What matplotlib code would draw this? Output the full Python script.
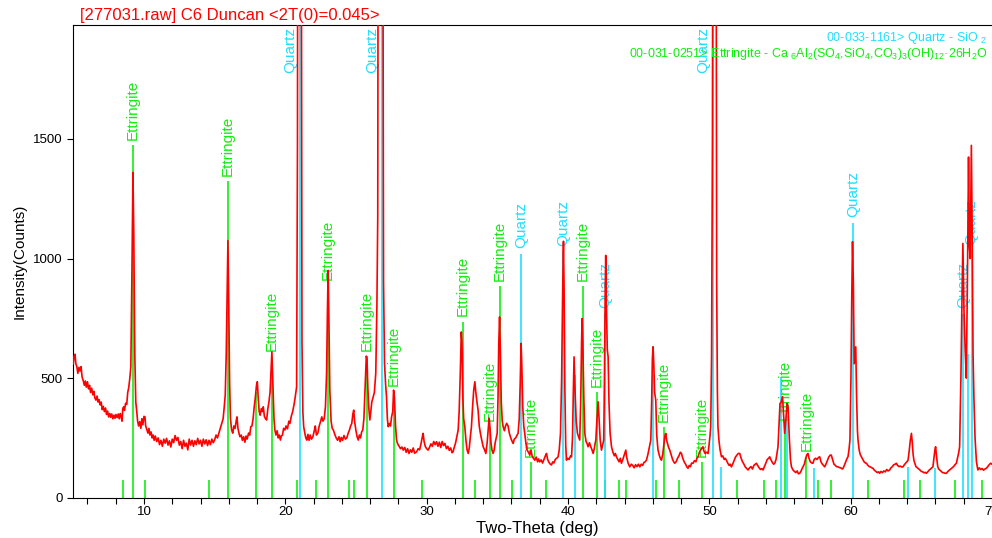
import matplotlib
matplotlib.use("Agg")
import matplotlib.pyplot as plt
from matplotlib.ticker import MultipleLocator

plt.rcParams["font.family"] = ["Liberation Sans", "DejaVu Sans"]
plt.rcParams["mathtext.fontset"] = "custom"
plt.rcParams["mathtext.rm"] = "Liberation Sans"
plt.rcParams["mathtext.it"] = "Liberation Sans:italic"
plt.rcParams["mathtext.bf"] = "Liberation Sans:bold"

SCAN = [
    (5.00, 560), (5.05, 590), (5.12, 600), (5.18, 560), (5.25, 548), (5.32, 520), (5.40, 545),
    (5.47, 530), (5.55, 548), (5.62, 505), (5.70, 490), (5.78, 470), (5.85, 488), (5.92, 462),
    (6.00, 485), (6.08, 455), (6.15, 470), (6.22, 440), (6.30, 458), (6.38, 430), (6.45, 445),
    (6.52, 418), (6.60, 408), (6.68, 425), (6.75, 400), (6.82, 410), (6.90, 388), (6.97, 400),
    (7.05, 368), (7.12, 382), (7.20, 360), (7.28, 375), (7.35, 348), (7.42, 362), (7.50, 338),
    (7.58, 352), (7.65, 336), (7.72, 350), (7.80, 330), (7.88, 345), (7.95, 332), (8.02, 348),
    (8.10, 335), (8.18, 350), (8.25, 330), (8.32, 352), (8.40, 335), (8.45, 320), (8.50, 372),
    (8.56, 380), (8.62, 365), (8.70, 395), (8.78, 390), (8.85, 440), (8.92, 460), (9.00, 500),
    (9.07, 547), (9.15, 950), (9.22, 1360), (9.28, 1100), (9.35, 600), (9.42, 400), (9.48, 366),
    (9.55, 320), (9.62, 300), (9.70, 318), (9.78, 290), (9.85, 330), (9.92, 305), (10.00, 340),
    (10.07, 338), (10.12, 300), (10.20, 285), (10.28, 270), (10.35, 290), (10.42, 262), (10.50, 275),
    (10.58, 250), (10.65, 262), (10.72, 240), (10.80, 258), (10.90, 235), (11.00, 250), (11.10, 222),
    (11.20, 240), (11.30, 215), (11.40, 245), (11.50, 228), (11.60, 248), (11.70, 220), (11.80, 238),
    (11.90, 212), (12.00, 245), (12.10, 230), (12.20, 260), (12.30, 240), (12.40, 252), (12.50, 220),
    (12.60, 235), (12.70, 205), (12.80, 240), (12.90, 215), (13.00, 228), (13.10, 200), (13.20, 245),
    (13.30, 220), (13.40, 240), (13.50, 215), (13.60, 238), (13.70, 222), (13.80, 248), (13.90, 225),
    (14.00, 240), (14.10, 215), (14.20, 245), (14.30, 225), (14.40, 242), (14.50, 218), (14.60, 240),
    (14.70, 222), (14.80, 245), (14.90, 230), (15.00, 242), (15.10, 262), (15.20, 250), (15.30, 270),
    (15.40, 290), (15.50, 311), (15.60, 330), (15.68, 380), (15.75, 430), (15.82, 600), (15.88, 850),
    (15.94, 1075), (16.00, 800), (16.06, 480), (16.12, 330), (16.20, 283), (16.28, 270), (16.36, 300),
    (16.45, 290), (16.52, 320), (16.58, 338), (16.65, 290), (16.72, 270), (16.79, 255), (16.88, 262),
    (16.96, 240), (17.05, 255), (17.14, 232), (17.22, 258), (17.30, 245), (17.40, 270), (17.48, 262),
    (17.56, 297), (17.64, 300), (17.72, 330), (17.80, 380), (17.88, 420), (17.96, 470), (18.02, 485),
    (18.08, 420), (18.15, 360), (18.22, 345), (18.30, 372), (18.38, 360), (18.44, 380), (18.52, 340),
    (18.60, 330), (18.68, 325), (18.76, 370), (18.84, 400), (18.92, 440), (18.98, 520), (19.05, 610),
    (19.12, 480), (19.20, 330), (19.26, 283), (19.34, 262), (19.42, 280), (19.50, 250), (19.58, 262),
    (19.65, 241), (19.72, 258), (19.80, 262), (19.88, 290), (19.97, 283), (20.05, 300), (20.15, 288),
    (20.25, 320), (20.33, 311), (20.42, 340), (20.52, 360), (20.62, 390), (20.70, 420), (20.80, 464),
    (20.86, 1481), (20.88, 2600), (21.13, 2600), (21.18, 650), (21.24, 360), (21.30, 297), (21.38, 270),
    (21.45, 250), (21.52, 241), (21.60, 265), (21.68, 240), (21.76, 262), (21.85, 245), (21.95, 255),
    (22.05, 280), (22.12, 300), (22.20, 262), (22.30, 270), (22.40, 300), (22.50, 320), (22.58, 338),
    (22.66, 320), (22.75, 330), (22.84, 380), (22.92, 520), (22.98, 780), (23.03, 950), (23.08, 760),
    (23.15, 450), (23.24, 320), (23.32, 290), (23.40, 283), (23.50, 265), (23.60, 250), (23.70, 240),
    (23.80, 255), (23.88, 234), (23.96, 252), (24.05, 240), (24.15, 260), (24.25, 245), (24.35, 250),
    (24.45, 270), (24.55, 285), (24.62, 300), (24.70, 310), (24.78, 350), (24.84, 366), (24.90, 320),
    (25.00, 280), (25.08, 255), (25.16, 241), (25.24, 262), (25.32, 250), (25.40, 275), (25.48, 283),
    (25.56, 330), (25.62, 420), (25.68, 520), (25.73, 592), (25.78, 580), (25.84, 460), (25.90, 380),
    (25.98, 325), (26.05, 360), (26.12, 400), (26.22, 422), (26.30, 440), (26.40, 520), (26.48, 800),
    (26.54, 1174), (26.57, 2600), (26.90, 2600), (26.95, 900), (27.02, 560), (27.10, 470), (27.16, 422),
    (27.22, 330), (27.28, 297), (27.36, 310), (27.44, 300), (27.52, 338), (27.60, 360), (27.66, 450),
    (27.72, 420), (27.80, 300), (27.87, 241), (27.95, 225), (28.05, 215), (28.15, 205), (28.25, 212),
    (28.34, 199), (28.45, 210), (28.55, 190), (28.65, 205), (28.75, 185), (28.85, 200), (28.95, 190),
    (29.05, 208), (29.15, 186), (29.29, 192), (29.40, 205), (29.50, 200), (29.60, 225), (29.68, 250),
    (29.75, 269), (29.82, 235), (29.90, 215), (30.00, 205), (30.10, 199), (30.20, 210), (30.30, 225),
    (30.40, 215), (30.50, 235), (30.60, 222), (30.70, 234), (30.80, 215), (30.90, 232), (31.00, 210),
    (31.10, 235), (31.20, 218), (31.29, 227), (31.40, 205), (31.50, 215), (31.60, 198), (31.70, 208),
    (31.80, 188), (31.87, 192), (31.95, 210), (32.05, 230), (32.15, 260), (32.23, 283), (32.30, 360),
    (32.38, 520), (32.45, 693), (32.50, 650), (32.56, 420), (32.62, 330), (32.70, 297), (32.78, 240),
    (32.86, 200), (32.94, 185), (33.02, 210), (33.10, 260), (33.17, 297), (33.25, 380), (33.33, 450),
    (33.41, 485), (33.48, 440), (33.56, 400), (33.64, 366), (33.72, 300), (33.80, 270), (33.90, 240),
    (34.00, 213), (34.10, 200), (34.19, 185), (34.28, 230), (34.36, 290), (34.42, 333), (34.47, 300),
    (34.55, 230), (34.62, 200), (34.70, 185), (34.78, 200), (34.85, 230), (34.92, 250), (34.99, 269),
    (35.05, 420), (35.10, 640), (35.16, 756), (35.22, 600), (35.28, 400), (35.35, 320), (35.41, 297),
    (35.50, 280), (35.58, 300), (35.66, 311), (35.76, 300), (35.85, 270), (35.95, 250), (36.05, 235),
    (36.12, 227), (36.20, 245), (36.30, 250), (36.40, 262), (36.47, 269), (36.55, 330), (36.62, 480),
    (36.68, 645), (36.73, 560), (36.80, 380), (36.87, 300), (36.94, 269), (37.02, 230), (37.10, 200),
    (37.20, 190), (37.30, 178), (37.38, 200), (37.46, 175), (37.55, 165), (37.65, 157), (37.75, 170),
    (37.85, 150), (37.92, 162), (38.00, 150), (38.10, 158), (38.20, 145), (38.30, 160), (38.40, 175),
    (38.48, 185), (38.56, 160), (38.65, 148), (38.75, 140), (38.83, 137), (38.92, 150), (39.00, 145),
    (39.10, 160), (39.20, 165), (39.30, 171), (39.38, 200), (39.47, 269), (39.55, 500), (39.62, 850),
    (39.68, 1072), (39.72, 900), (39.78, 450), (39.84, 220), (39.89, 157), (39.98, 165), (40.08, 160),
    (40.18, 175), (40.25, 171), (40.32, 250), (40.38, 450), (40.43, 589), (40.50, 450), (40.58, 320),
    (40.67, 269), (40.75, 255), (40.83, 241), (40.90, 400), (40.96, 650), (41.00, 749), (41.05, 650),
    (41.12, 420), (41.19, 269), (41.28, 235), (41.36, 225), (41.42, 213), (41.52, 230), (41.60, 215),
    (41.70, 200), (41.78, 185), (41.86, 205), (41.93, 230), (41.97, 241), (42.05, 330), (42.13, 401),
    (42.20, 330), (42.28, 240), (42.37, 199), (42.45, 220), (42.53, 241), (42.58, 500), (42.63, 850),
    (42.67, 1013), (42.72, 800), (42.78, 620), (42.84, 589), (42.90, 400), (42.98, 270), (43.08, 213),
    (43.18, 190), (43.28, 175), (43.35, 185), (43.43, 171), (43.52, 160), (43.62, 150), (43.70, 165),
    (43.78, 144), (43.88, 160), (43.96, 175), (44.04, 190), (44.09, 199), (44.15, 170), (44.25, 145),
    (44.37, 129), (44.48, 140), (44.58, 135), (44.68, 125), (44.78, 138), (44.88, 130), (44.98, 140),
    (45.08, 129), (45.18, 140), (45.28, 135), (45.38, 148), (45.46, 150), (45.55, 157), (45.65, 180),
    (45.75, 210), (45.86, 241), (45.92, 400), (45.97, 580), (46.02, 631), (46.07, 560), (46.13, 440),
    (46.21, 408), (46.28, 260), (46.37, 199), (46.45, 180), (46.53, 165), (46.61, 157), (46.70, 180),
    (46.80, 230), (46.86, 260), (46.92, 269), (46.98, 240), (47.05, 225), (47.12, 210), (47.20, 199),
    (47.30, 180), (47.40, 160), (47.48, 150), (47.55, 144), (47.65, 150), (47.75, 165), (47.85, 175),
    (47.95, 190), (48.03, 185), (48.12, 165), (48.22, 150), (48.32, 140), (48.40, 130), (48.49, 123),
    (48.58, 135), (48.66, 130), (48.75, 145), (48.85, 144), (48.95, 155), (49.05, 150), (49.12, 165),
    (49.20, 171), (49.30, 190), (49.38, 200), (49.45, 205), (49.55, 213), (49.62, 195), (49.70, 185),
    (49.80, 190), (49.91, 185), (49.98, 220), (50.05, 260), (50.10, 297), (50.16, 600), (50.22, 1500),
    (50.25, 2600), (50.48, 2600), (50.52, 900), (50.57, 450), (50.61, 297), (50.68, 240), (50.76, 200),
    (50.86, 171), (50.95, 175), (51.05, 160), (51.12, 165), (51.21, 157), (51.30, 145), (51.40, 135),
    (51.48, 140), (51.56, 129), (51.65, 140), (51.75, 155), (51.85, 170), (51.95, 178), (52.05, 185),
    (52.15, 185), (52.25, 165), (52.35, 150), (52.45, 140), (52.55, 128), (52.65, 122), (52.74, 116),
    (52.85, 125), (52.95, 130), (53.05, 120), (53.15, 135), (53.25, 140), (53.33, 144), (53.42, 135),
    (53.52, 125), (53.62, 118), (53.72, 122), (53.80, 116), (53.90, 130), (54.00, 145), (54.10, 160),
    (54.20, 165), (54.27, 171), (54.35, 160), (54.45, 148), (54.55, 140), (54.63, 144), (54.72, 160),
    (54.80, 190), (54.86, 213), (54.93, 300), (55.00, 394), (55.08, 400), (55.18, 422), (55.26, 340),
    (55.33, 269), (55.42, 330), (55.50, 394), (55.57, 380), (55.66, 250), (55.74, 160), (55.81, 129),
    (55.92, 116), (56.02, 110), (56.12, 105), (56.22, 112), (56.30, 100), (56.39, 102), (56.48, 110),
    (56.55, 120), (56.63, 129), (56.72, 140), (56.82, 165), (56.90, 180), (56.98, 185), (57.05, 165),
    (57.15, 150), (57.25, 145), (57.33, 144), (57.42, 160), (57.52, 165), (57.62, 160), (57.72, 168),
    (57.81, 171), (57.90, 150), (58.00, 140), (58.08, 135), (58.16, 129), (58.25, 140), (58.35, 155),
    (58.45, 170), (58.55, 178), (58.63, 178), (58.72, 160), (58.82, 140), (58.92, 135), (59.00, 130),
    (59.10, 129), (59.20, 126), (59.30, 125), (59.40, 120), (59.46, 123), (59.55, 135), (59.65, 150),
    (59.75, 165), (59.81, 171), (59.88, 200), (59.95, 241), (60.02, 500), (60.08, 850), (60.13, 1070),
    (60.19, 900), (60.25, 560), (60.31, 600), (60.36, 631), (60.42, 420), (60.48, 280), (60.52, 241),
    (60.60, 200), (60.68, 180), (60.76, 171), (60.85, 160), (60.95, 150), (61.05, 145), (61.12, 144),
    (61.22, 135), (61.32, 130), (61.42, 128), (61.50, 125), (61.58, 123), (61.68, 115), (61.78, 110),
    (61.88, 105), (61.98, 108), (62.05, 102), (62.15, 110), (62.25, 105), (62.35, 112), (62.45, 108),
    (62.55, 118), (62.65, 112), (62.76, 116), (62.85, 125), (62.95, 130), (63.05, 138), (63.15, 140),
    (63.23, 144), (63.32, 135), (63.42, 130), (63.52, 132), (63.62, 128), (63.70, 129), (63.80, 138),
    (63.90, 145), (64.00, 152), (64.06, 157), (64.15, 200), (64.22, 240), (64.30, 269), (64.36, 230),
    (64.42, 180), (64.48, 155), (64.54, 144), (64.62, 130), (64.72, 125), (64.82, 120), (64.90, 116),
    (65.00, 110), (65.10, 108), (65.20, 104), (65.28, 106), (65.35, 102), (65.45, 108), (65.55, 115),
    (65.65, 120), (65.75, 125), (65.82, 129), (65.90, 170), (65.96, 200), (66.01, 213), (66.08, 170),
    (66.16, 130), (66.23, 120), (66.30, 116), (66.40, 110), (66.50, 105), (66.60, 104), (66.68, 102),
    (66.77, 102), (66.88, 110), (66.98, 115), (67.08, 120), (67.18, 125), (67.28, 130), (67.38, 138),
    (67.48, 144), (67.58, 170), (67.65, 190), (67.71, 213), (67.80, 500), (67.88, 850), (67.94, 1063),
    (68.02, 780), (68.10, 620), (68.18, 500), (68.26, 900), (68.34, 1424), (68.40, 1050), (68.46, 1000),
    (68.54, 1473), (68.60, 1100), (68.66, 600), (68.72, 420), (68.80, 250), (68.90, 150), (69.00, 116),
    (69.10, 125), (69.20, 118), (69.30, 122), (69.40, 115), (69.50, 120), (69.60, 123), (69.70, 130),
    (69.80, 138), (69.90, 144), (70.00, 140),
]

# reference card 00-033-1161 (quartz) sticks
QUARTZ_POS = [21.03, 26.81, 36.71, 39.65, 40.48, 42.62, 46.02, 50.26, 50.80, 55.10, 55.52,
              57.40, 60.16, 64.03, 65.99, 67.94, 68.30, 68.56]
QUARTZ_HT = [2600, 2600, 1021, 1030, 511, 771, 511, 2600, 128, 505, 340,
             123, 1149, 129, 123, 770, 600, 1034]
QUARTZ_LABELED = [21.03, 26.81, 36.71, 39.65, 42.62, 50.26, 60.16, 67.94, 68.56]

# reference card 00-031-0251 (ettringite) sticks
ETT_POS = [8.54, 9.24, 10.07, 14.58, 15.94, 17.90, 19.07, 20.80, 22.17, 23.03, 24.50, 24.87,
           25.75, 27.66, 29.70, 32.54, 33.40, 34.47, 35.18, 36.07, 37.35, 38.45, 41.07, 42.06,
           42.60, 43.61, 44.09, 46.21, 46.77, 47.86, 49.46, 51.99, 53.87, 54.70, 55.33, 56.87,
           57.69, 58.63, 61.22, 63.75, 64.88, 67.35, 69.29]
ETT_HT = [74, 1473, 74, 74, 1323, 443, 592, 74, 74, 888, 74, 74,
          592, 443, 74, 735, 74, 297, 884, 74, 149, 74, 884, 441,
          74, 74, 74, 74, 294, 74, 148, 74, 74, 74, 303, 170,
          74, 74, 74, 74, 74, 74, 74]
ETT_LABELED = [9.24, 15.94, 19.07, 23.03, 25.75, 27.66, 32.54, 34.47, 35.18, 37.35, 41.07,
               42.06, 46.77, 49.46, 55.33, 56.87]

RED = "#ff0000"
GREEN = "#11ee11"
CYAN = "#1ee0ff"
YMAX = 1975

fig = plt.figure(figsize=(9.92, 5.38), dpi=100)
ax = fig.add_axes([0.0739, 0.0749, 0.9261, 0.878])

ax.vlines(ETT_POS, 0, ETT_HT, colors=GREEN, linewidth=1.2, zorder=2)
ax.vlines(QUARTZ_POS, 0, QUARTZ_HT, colors=CYAN, linewidth=1.2, zorder=2)

tt = [p[0] for p in SCAN]
cts = [p[1] for p in SCAN]
ax.plot(tt, cts, color=RED, linewidth=1.2, zorder=3)


def stick_labels(positions, heights, labeled, text, color):
    for x, h in zip(positions, heights):
        if x not in labeled:
            continue
        if h > YMAX:
            # off-scale line: label hangs from the top, left of the stick
            ax.annotate(text, xy=(x, YMAX), xytext=(-7, -1.5), textcoords="offset points",
                        rotation=90, ha="center", va="top", fontsize=11, color=color,
                        zorder=2.5, annotation_clip=False)
        else:
            ax.annotate(text, xy=(x, h), xytext=(0, 4), textcoords="offset points",
                        rotation=90, ha="center", va="bottom", fontsize=11, color=color,
                        zorder=2.5)


stick_labels(ETT_POS, ETT_HT, ETT_LABELED, "Ettringite", GREEN)
stick_labels(QUARTZ_POS, QUARTZ_HT, QUARTZ_LABELED, "Quartz", CYAN)

ax.set_xlim(5, 70)
ax.set_ylim(0, YMAX)
ax.set_xticks(range(10, 71, 10))
ax.xaxis.set_minor_locator(MultipleLocator(2))
ax.set_yticks([0, 500, 1000, 1500])
ax.tick_params(which="both", direction="out", length=4, width=0.8, labelsize=9.5)
ax.tick_params(axis="x", which="both", pad=2)
ax.spines["right"].set_visible(False)

fig.text(80 / 992, 1 - 15.5 / 538, "[277031.raw] C6 Duncan <2T(0)=0.045>",
         color=RED, fontsize=12, ha="left", va="center")
fig.text(20 / 992, 0.515, "Intensity(Counts)", rotation=90, fontsize=11,
         ha="center", va="center")
fig.text(0.542, 1 - 528 / 538, "Two-Theta (deg)", fontsize=12, ha="center", va="center")

fig.text(0.995, 1 - 38 / 538, "00-033-1161> Quartz - SiO $_2$", color=CYAN,
         fontsize=9.0, ha="right", va="center")
fig.text(0.995, 1 - 53.5 / 538,
         "00-031-0251> Ettringite - Ca $_6$Al$_2$(SO$_4$,SiO$_4$,CO$_3$)$_3$(OH)$_{12}$\u00b726H$_2$O",
         color=GREEN, fontsize=9.0, ha="right", va="center")

fig.savefig("out.png", dpi=100, facecolor="white")
